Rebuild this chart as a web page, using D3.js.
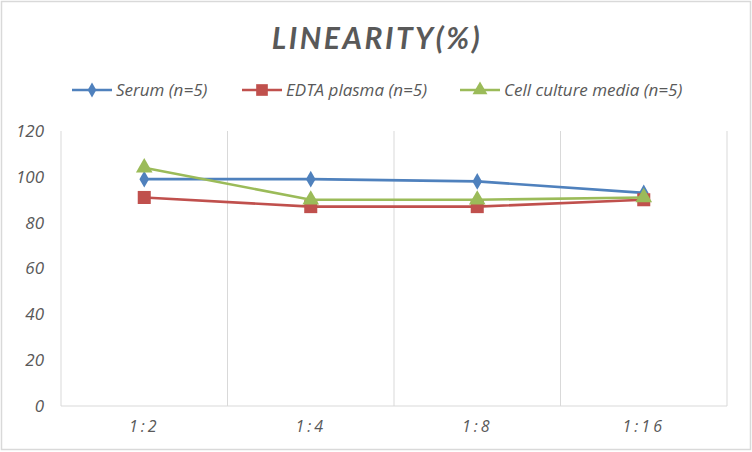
<!DOCTYPE html>
<html>
<head>
<meta charset="utf-8">
<script src="https://cdn.jsdelivr.net/npm/d3@7"></script>
<style>
  body { margin: 0; background: #fff; }
  svg { display: block; font-family: "Open Sans", Lato, sans-serif; }
</style>
</head>
<body>
<svg id="chart" width="752" height="452"></svg>
<script>
// dilution ratios on the x axis
const categories = ["1:2", "1:4", "1:8", "1:16"];
const serum = [99, 99, 98, 93];
const edta = [91, 87, 87, 90];
const cellMedia = [104, 90, 90, 91];
const yTicks = [0, 20, 40, 60, 80, 100, 120];

const series = [
  { name: "Serum (n=5)", values: serum, color: "#4f81bd", symbol: d3.symbolDiamond, size: 80 },
  { name: "EDTA plasma (n=5)", values: edta, color: "#c0504d", symbol: d3.symbolSquare, size: 170 },
  { name: "Cell culture media (n=5)", values: cellMedia, color: "#9bbb59", symbol: d3.symbolTriangle, size: 120 }
];

const svg = d3.select("#chart");
const margin = { top: 131, right: 25, bottom: 46, left: 61 };
const width = 752 - margin.left - margin.right;
const height = 452 - margin.top - margin.bottom;
const labelFont = "'Open Sans', Lato, sans-serif";

// chart border
svg.append("rect")
  .attr("x", 1.5).attr("y", 1.5)
  .attr("width", 749).attr("height", 448)
  .attr("fill", "none")
  .attr("stroke", "#d9d9d9")
  .attr("stroke-width", 1.5);

svg.append("text")
  .attr("x", 377).attr("y", 49)
  .attr("text-anchor", "middle")
  .style("font-family", "Lato, sans-serif")
  .style("font-size", "30px")
  .style("font-weight", "bold")
  .style("font-style", "italic")
  .style("letter-spacing", "2.5px")
  .style("fill", "#595959")
  .text("LINEARITY(%)");

const g = svg.append("g").attr("transform", `translate(${margin.left},${margin.top})`);

const x = d3.scaleBand().domain(categories).range([0, width]);
const y = d3.scaleLinear().domain([0, 120]).range([height, 0]);

// vertical gridlines at band edges
const edges = categories.map(c => x(c)).concat([width]);
g.selectAll(".vgrid")
  .data(edges)
  .join("line")
  .attr("class", "vgrid")
  .attr("x1", d => d).attr("x2", d => d)
  .attr("y1", 0).attr("y2", height)
  .attr("stroke", "#d9d9d9");

g.append("line")
  .attr("x1", 0).attr("x2", width)
  .attr("y1", height).attr("y2", height)
  .attr("stroke", "#d9d9d9");

// y labels
const yAxis = g.append("g").call(d3.axisLeft(y).tickValues(yTicks).tickSize(0).tickPadding(17));
yAxis.select(".domain").remove();
yAxis.selectAll("text")
  .style("font-size", "17px")
  .style("font-style", "italic")
  .style("font-family", labelFont)
  .style("fill", "#595959");

// x labels
const xAxis = g.append("g")
  .attr("transform", `translate(0,${height})`)
  .call(d3.axisBottom(x).tickSize(0).tickPadding(15));
xAxis.select(".domain").remove();
xAxis.selectAll("text")
  .style("font-size", "16px")
  .style("font-style", "italic")
  .style("letter-spacing", "3px")
  .style("font-family", labelFont)
  .style("fill", "#595959");

const cx = c => x(c) + x.bandwidth() / 2;
const line = d3.line().x((d, i) => cx(categories[i])).y(d => y(d));

series.forEach(s => {
  g.append("path")
    .datum(s.values)
    .attr("fill", "none")
    .attr("stroke", s.color)
    .attr("stroke-width", 2.6)
    .attr("d", line);
  g.selectAll(null)
    .data(s.values)
    .join("path")
    .attr("transform", (d, i) => `translate(${cx(categories[i])},${y(d)})`)
    .attr("d", d3.symbol().type(s.symbol).size(s.size))
    .attr("fill", s.color);
});

// legend
const legendX = [72, 242, 460];
const legend = svg.append("g").attr("transform", "translate(0,90)");
series.forEach((s, i) => {
  const lg = legend.append("g").attr("transform", `translate(${legendX[i]},0)`);
  lg.append("line")
    .attr("x1", 0).attr("x2", 40)
    .attr("stroke", s.color).attr("stroke-width", 2.6);
  lg.append("path")
    .attr("transform", "translate(20,0)")
    .attr("d", d3.symbol().type(s.symbol).size(s.size * 0.8))
    .attr("fill", s.color);
  lg.append("text")
    .attr("x", 44).attr("y", 6)
    .style("font-size", "17px")
    .style("font-style", "italic")
    .style("fill", "#595959")
    .text(s.name);
});
</script>
</body>
</html>
